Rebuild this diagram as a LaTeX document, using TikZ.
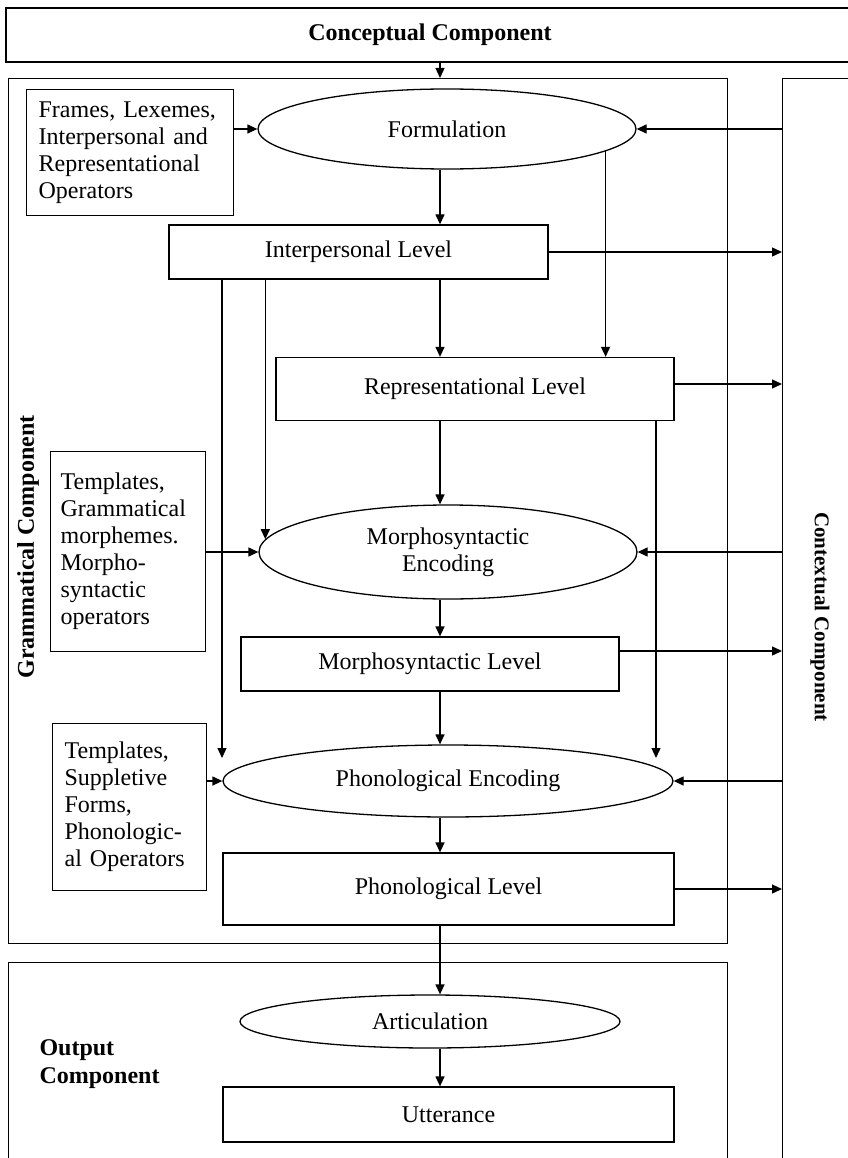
\documentclass[tikz,border=0pt]{standalone}
\usepackage{fontspec}
\setmainfont{Liberation Serif}
\usetikzlibrary{arrows.meta,shapes.geometric}
\begin{document}
\begin{tikzpicture}[x=1pt,y=-1pt,
  every node/.style={font=\fontsize{24}{27}\selectfont},
  box/.style={draw, line width=1.3pt, rectangle, inner sep=0pt},
  oval/.style={draw, line width=1.3pt, ellipse, inner sep=0pt, align=center},
  arr/.style={line width=1.3pt, -{Triangle[length=10pt,width=9pt]}},
  lbl/.style={font=\bfseries\fontsize{24}{28}\selectfont}]
\useasboundingbox (0,0) rectangle (847,1158);

% containers
\node[box, lbl, minimum width=848pt, minimum height=54pt] (concept) at (430,35) {Conceptual Component};
\node[box, anchor=north west, minimum width=719pt, minimum height=865pt] (gram) at (8,78) {};
\node[lbl, rotate=90] (gramlbl) at (28,547) {Grammatical Component};
\node[box, anchor=north west, minimum width=120pt, minimum height=1120pt] (ctx) at (782,78) {};
\node[lbl, rotate=-90, font=\bfseries\fontsize{21}{24}\selectfont] (ctxlbl) at (820,617) {Contextual Component};
\node[box, anchor=north west, minimum width=719pt, minimum height=240pt] (outc) at (8,962) {};
\node[lbl, align=left, anchor=west] (outlbl) at (36,1064) {Output\\Component};

% inner nodes
\node[oval, minimum width=378pt, minimum height=80pt] (form) at (447,129) {Formulation};
\node[box, text width=183pt, inner xsep=12pt, align=left, minimum height=126pt, anchor=north west] (frames) at (26,89) {Frames, Lexemes,\\Interpersonal and\\Representational\\Operators};
\node[box, minimum width=379pt, minimum height=54pt] (inter) at (358.5,252) {Interpersonal Level};
\node[box, minimum width=398pt, minimum height=63pt] (repr) at (475,389) {Representational Level};
\node[oval, minimum width=378pt, minimum height=94pt] (mse) at (448,552) {Morphosyntactic\\Encoding};
\node[box, text width=135pt, inner xsep=10pt, align=left, minimum height=200pt, anchor=north west] (tmpl1) at (50,451) {Templates,\\Grammatical\\morphemes.\\Morpho-\\syntactic\\operators};
\node[box, minimum width=378pt, minimum height=54pt] (msl) at (430,664) {Morphosyntactic Level};
\node[oval, minimum width=450pt, minimum height=72pt] (pe) at (448,781) {Phonological Encoding};
\node[box, text width=130pt, inner xsep=12pt, align=left, minimum height=167pt, anchor=north west] (tmpl2) at (52,723) {Templates,\\Suppletive\\Forms,\\Phonologic-\\al Operators};
\node[box, minimum width=451pt, minimum height=72pt] (pl) at (448.5,889) {Phonological Level};
\node[oval, minimum width=380pt, minimum height=53pt] (art) at (430,1021.5) {Articulation};
\node[box, minimum width=451pt, minimum height=55pt] (utt) at (448.5,1114.5) {Utterance};

\coordinate (ax) at (440,0);
\coordinate (e1) at (222,758);
\coordinate (e2) at (656,758);

% main axis
\draw[arr] (ax |- concept.south) -- (ax |- gram.north);
\draw[arr] (ax |- form.south) -- (ax |- inter.north);
\draw[arr] (ax |- inter.south) -- (ax |- repr.north);
\draw[arr] (ax |- repr.south) -- (ax |- mse.north);
\draw[arr] (ax |- mse.south) -- (ax |- msl.north);
\draw[arr] (ax |- msl.south) -- (ax |- pe.north);
\draw[arr] (ax |- pe.south) -- (ax |- pl.north);
\draw[arr] (ax |- pl.south) -- (ax |- art.north);
\draw[arr] (ax |- art.south) -- (ax |- utt.north);

% inputs from the left
\draw[arr] (form.west -| frames.east) -- (form.west);
\draw[arr] (mse.west -| tmpl1.east) -- (mse.west);
\draw[arr] (pe.west -| tmpl2.east) -- (pe.west);

% from contextual component
\draw[arr] (form.east -| ctx.west) -- (form.east);
\draw[arr] (mse.east -| ctx.west) -- (mse.east);
\draw[arr] (pe.east -| ctx.west) -- (pe.east);

% to contextual component
\draw[arr] (inter.east) -- (inter.east -| ctx.west);
\draw[arr] ([yshift=5pt]repr.east) -- ([yshift=5pt]repr.east -| ctx.west);
\draw[arr] ([yshift=13pt]msl.east) -- ([yshift=13pt]msl.east -| ctx.west);
\draw[arr] (pl.east) -- (pl.east -| ctx.west);

% side lines
\draw[arr] (form.-8.5) -- (form.-8.5 |- repr.north);
\draw[arr] (inter.south -| mse.176) -- (mse.176);
\draw[arr] (inter.south -| e1) -- (e1);
\draw[arr] (repr.south -| e2) -- (e2);
\end{tikzpicture}
\end{document}
